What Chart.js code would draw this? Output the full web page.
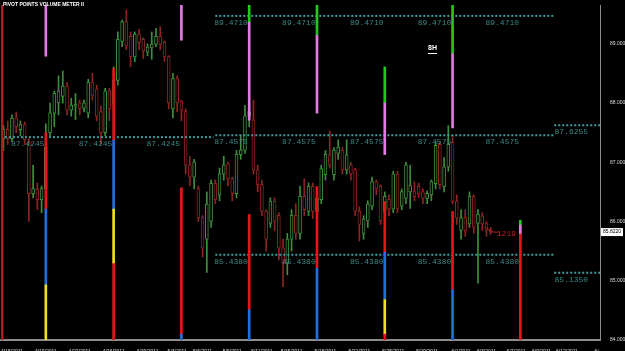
<!DOCTYPE html>
<html>
<head>
<meta charset="utf-8">
<script src="https://cdn.jsdelivr.net/npm/chart.js@4.4.0/dist/chart.umd.min.js"></script>
<style>
  html, body { margin: 0; padding: 0; background: #000; }
  #wrap { width: 625px; height: 351px; }
</style>
</head>
<body>
<div id="wrap"><canvas id="chart" width="625" height="351"></canvas></div>
<script>
// bougies 8H, une ligne par bougie : open, high, low, close
const candles = [
  [87.40,87.62,87.20,87.55],[87.55,87.70,87.30,87.40],[87.40,87.80,87.35,87.74],[87.74,87.85,87.50,87.60],
  [87.55,87.70,87.45,87.63],[87.63,87.68,87.30,87.38],[87.33,87.40,86.00,86.47],[86.47,86.95,86.40,86.55],
  [86.54,86.65,86.20,86.37],[86.37,86.60,86.15,86.55],[86.55,87.65,86.45,87.25],[87.50,88.00,87.45,87.83],
  [87.83,88.20,87.60,88.16],[88.00,88.46,87.80,88.20],[88.11,88.54,88.00,88.28],[88.28,88.35,87.80,87.88],
  [87.88,88.08,87.78,87.96],[87.95,88.16,87.72,87.97],[88.00,88.05,87.80,87.91],[87.91,88.05,87.85,88.00],
  [87.83,88.40,87.75,88.35],[88.35,88.50,88.05,88.13],[88.23,88.30,87.70,87.78],[87.85,87.95,87.30,87.50],
  [87.50,88.25,87.45,88.20],[88.20,88.25,87.70,87.90],[88.00,88.61,87.90,88.38],[88.38,89.20,88.30,89.07],
  [89.04,89.40,88.95,89.37],[89.37,89.57,88.90,88.96],[89.12,89.20,88.61,88.78],[88.78,89.20,88.70,89.16],
  [89.16,89.25,88.90,89.02],[89.07,89.10,88.75,88.88],[88.86,89.00,88.80,88.94],[88.93,89.20,88.74,88.99],
  [88.99,89.26,88.95,89.12],[89.12,89.29,88.90,88.99],[89.02,89.05,88.70,88.78],[88.78,88.80,87.90,88.00],
  [87.90,88.50,87.75,88.41],[88.41,88.46,87.85,88.00],[88.03,88.05,87.70,87.88],[87.85,87.90,86.80,86.95],
  [86.95,87.10,86.60,86.75],[86.75,87.05,86.55,87.00],[86.55,86.60,86.00,86.06],[86.06,86.10,85.40,85.55],
  [85.70,86.50,85.14,86.29],[86.00,86.70,85.90,86.64],[86.64,86.70,86.30,86.37],[86.45,86.90,86.35,86.80],
  [86.80,87.10,86.70,86.95],[86.97,87.00,86.60,86.72],[86.72,86.75,86.35,86.47],[86.47,87.20,86.40,87.13],
  [87.13,87.45,87.05,87.20],[87.20,87.96,87.15,87.78],[87.78,87.96,87.60,87.85],[87.71,88.05,86.80,86.87],
  [86.87,86.95,86.50,86.62],[86.62,86.70,86.10,86.17],[86.17,86.20,85.50,85.70],[85.97,86.40,85.90,86.34],
  [86.34,86.40,85.84,86.00],[86.10,86.15,85.35,85.55],[85.55,85.70,84.90,85.30],[85.30,85.80,85.10,85.70],
  [85.70,86.20,85.50,86.10],[86.10,86.30,85.70,85.80],[85.80,86.60,85.70,86.42],[86.42,86.72,86.10,86.20],
  [86.17,86.65,86.10,86.59],[86.59,86.65,86.05,86.17],[86.17,86.45,86.05,86.39],[86.37,86.95,86.30,86.89],
  [86.79,87.20,86.70,87.13],[87.12,87.53,86.90,86.95],[86.79,87.25,86.70,87.20],[87.15,87.38,87.05,87.25],
  [87.20,87.25,86.80,86.87],[86.87,87.38,86.80,87.12],[86.95,87.00,86.70,86.80],[86.87,86.90,86.10,86.17],
  [86.17,86.25,85.67,85.95],[85.80,86.10,85.70,86.04],[86.01,86.35,85.90,86.29],[86.26,86.75,86.20,86.67],
  [86.67,86.70,86.45,86.55],[86.59,86.62,85.95,86.01],[86.17,86.50,86.10,86.42],[86.37,86.45,86.10,86.21],
  [86.21,86.85,86.15,86.80],[86.80,86.85,86.15,86.22],[86.26,86.55,86.20,86.50],[86.39,87.00,86.30,86.95],
  [86.50,86.95,86.22,86.60],[86.50,86.67,86.35,86.42],[86.59,86.65,86.40,86.47],[86.50,86.55,86.30,86.39],
  [86.39,86.52,86.30,86.47],[86.45,86.70,86.35,86.67],[86.64,87.35,86.55,87.28],[87.30,87.35,86.55,86.62],
  [86.59,87.08,86.50,86.92],[86.92,87.62,86.85,87.30],[87.33,87.45,86.30,86.34],[86.34,86.45,85.95,86.06],
  [85.85,86.20,85.70,86.06],[86.06,86.20,85.75,85.85],[85.96,86.50,85.90,86.42],[86.42,86.45,85.80,85.90],
  [85.97,86.20,84.96,86.12],[86.09,86.15,85.85,85.96],[85.96,86.00,85.75,85.85],[85.85,85.90,85.78,85.82]
];

// axe des dates (position en bougies)
const dateBars = [2, 10, 18, 26, 34, 41, 47, 54, 61, 68, 76, 84, 92, 100, 108, 114, 121, 127, 133, 140];
const dateLabels = ['4/15/2011','4/19/2011','4/22/2011','4/26/2011','4/29/2011','5/3/2011','5/6/2011',
  '5/9/2011','5/11/2011','5/15/2011','5/18/2011','5/22/2011','5/25/2011','5/29/2011','6/1/2011',
  '6/3/2011','6/7/2011','6/9/2011','6/12/2011','6/'];
const priceTicks = [84, 85, 86, 87, 88, 89];

// lignes verticales de l'indicateur volume meter (bougie, bas, haut, couleur)
const segBar   = [-0.3, 10, 10, 10, 10, 26, 26, 26, 26, 42, 42, 42, 58, 58, 58, 58, 74, 74, 74, 74, 90, 90, 90, 90, 90, 90, 106, 106, 106, 106, 122, 122, 122];
const segLow   = [84.0, 88.79, 86.21, 84.93, 84.0, 87.37, 86.21, 85.29, 84.0, 89.06, 84.10, 84.0, 89.36, 87.71, 84.51, 84.0, 89.14, 87.83, 85.21, 84.0, 88.00, 87.13, 85.48, 84.68, 84.10, 84.0, 88.83, 87.58, 84.85, 84.0, 85.94, 85.79, 84.0];
const segHigh  = [89.7, 89.70, 87.50, 86.21, 84.93, 88.58, 87.37, 86.21, 85.29, 89.70, 86.57, 84.10, 89.70, 89.36, 86.12, 84.51, 89.70, 89.14, 86.59, 85.21, 88.61, 88.00, 86.34, 85.48, 84.68, 84.10, 89.70, 88.83, 86.17, 84.85, 86.02, 85.94, 85.79];
const segColor = ['d', 'p', 'r', 'b', 'y', 'r', 'b', 'y', 'r', 'p', 'r', 'b', 'g', 'p', 'r', 'b', 'g', 'p', 'r', 'b', 'g', 'p', 'r', 'b', 'y', 'r', 'g', 'p', 'r', 'b', 'g', 'p', 'r'];

// points pivots (niveau, debut, fin, positions des etiquettes)
const pivotLevels = [87.4245, 89.4710, 87.4575, 85.4380, 87.6255, 85.1350];
const pivotStart  = [-0.6, 50, 50, 50, 130, 130];
const pivotEnd    = [49.6, 130, 130, 130, 141, 141];
const pivotLabelBars = [[2, 18, 34], [50, 66, 82, 98, 114], [50, 66, 82, 98, 114], [50, 66, 82, 98, 114], [130.3], [130.3]];

const lastPrice = 85.8220;

const palette = { r: '#e8141a', d: '#a52020', b: '#1f6fe0', y: '#f2e21a', p: '#e27ce2', g: '#22c81e' };
const upCol = '#3d8f3d', downCol = '#8e2424';

const colOf = c => c[3] >= c[0] ? upCol : downCol;

const datasets = [];
datasets.push({
  type: 'bar', label: 'segments', order: 0, grouped: false,
  data: segBar.map((b, i) => ({ x: b, y: [segLow[i], segHigh[i]] })),
  backgroundColor: segColor.map(k => palette[k]),
  barThickness: 2, borderWidth: 0
});
datasets.push({
  type: 'bar', label: 'corps', order: 2, grouped: false,
  data: candles.map((c, i) => ({ x: i, y: [Math.min(c[0], c[3]), Math.max(c[0], c[3]) + 0.005] })),
  backgroundColor: '#000', borderColor: candles.map(colOf), borderWidth: 1,
  borderSkipped: false, barThickness: 3
});
datasets.push({
  type: 'bar', label: 'meches', order: 3, grouped: false,
  data: candles.map((c, i) => ({ x: i, y: [c[2], c[1]] })),
  backgroundColor: candles.map(colOf), barThickness: 1, borderWidth: 0
});
pivotLevels.forEach((lv, i) => {
  datasets.push({
    type: 'line', label: 'pivot' + i, order: 1,
    data: [{ x: pivotStart[i], y: lv }, { x: pivotEnd[i], y: lv }],
    borderColor: '#3f9d9d', borderWidth: 2, borderDash: [2, 2], pointRadius: 0
  });
});

const deco = {
  id: 'deco',
  beforeDraw(chart) {
    const ctx = chart.ctx;
    ctx.save();
    ctx.fillStyle = '#000';
    ctx.fillRect(0, 0, chart.width, chart.height);
    ctx.restore();
  },
  afterDatasetsDraw(chart) {
    const ctx = chart.ctx, xs = chart.scales.x, ys = chart.scales.y;
    ctx.save();
    // etiquettes des pivots
    ctx.font = '8px "Liberation Mono"';
    ctx.fillStyle = '#3f8585';
    ctx.textBaseline = 'top';
    pivotLevels.forEach((lv, i) => {
      pivotLabelBars[i].forEach(b => {
        ctx.fillText(lv.toFixed(4), xs.getPixelForValue(b) - 1, ys.getPixelForValue(lv) + 3);
      });
    });
    // titre
    ctx.fillStyle = '#fff';
    ctx.font = 'bold 5px "Liberation Sans"';
    ctx.fillText('PIVOT POINTS VOLUME METER II', 3, 2);
    // 8H
    ctx.font = 'bold 7px "Liberation Sans"';
    ctx.fillText('8H', 428, 45);
    ctx.fillRect(428, 53, 9, 1);
    // compteur rouge
    const yl = ys.getPixelForValue(lastPrice);
    const xl = xs.getPixelForValue(candles.length - 0.5);
    ctx.strokeStyle = '#c02020';
    ctx.beginPath();
    ctx.moveTo(xl - 8, yl - 5); ctx.lineTo(xl, yl); ctx.lineTo(xl + 5, yl);
    ctx.stroke();
    ctx.fillStyle = '#c02020';
    ctx.font = '8px "Liberation Mono"';
    ctx.fillText('1219', xl + 4, yl - 2);
    // prix courant
    ctx.fillStyle = '#fff';
    ctx.fillRect(601, yl - 4, 22, 8);
    ctx.fillStyle = '#000';
    ctx.font = '5px "Liberation Sans"';
    ctx.textBaseline = 'middle';
    ctx.fillText(lastPrice.toFixed(4), 603, yl);
    ctx.restore();
  }
};

new Chart(document.getElementById('chart'), {
  data: { datasets },
  options: {
    responsive: false,
    animation: false,
    layout: { padding: 0 },
    plugins: { legend: { display: false }, tooltip: { enabled: false } },
    scales: {
      x: {
        type: 'linear', min: -0.61, max: 140.8, offset: false,
        grid: { display: false },
        border: { display: true, color: '#8c8c8c', width: 2 },
        afterBuildTicks: axis => { axis.ticks = dateBars.map(v => ({ value: v })); },
        afterFit: axis => { axis.height = 11; },
        ticks: {
          autoSkip: false, maxRotation: 0, padding: 1, color: '#ddd',
          font: { size: 5, family: 'Liberation Sans' },
          callback: (v, i) => dateLabels[i]
        }
      },
      y: {
        type: 'linear', position: 'right', min: 84.0, max: 89.655,
        grid: { display: false },
        border: { display: true, color: '#8c8c8c', width: 1 },
        afterBuildTicks: axis => { axis.ticks = priceTicks.map(v => ({ value: v })); },
        afterFit: axis => { axis.width = 25; },
        ticks: {
          padding: 2, color: '#ddd',
          font: { size: 5, family: 'Liberation Sans' },
          callback: v => v.toFixed(4)
        }
      }
    }
  },
  plugins: [deco]
});
</script>
</body>
</html>
